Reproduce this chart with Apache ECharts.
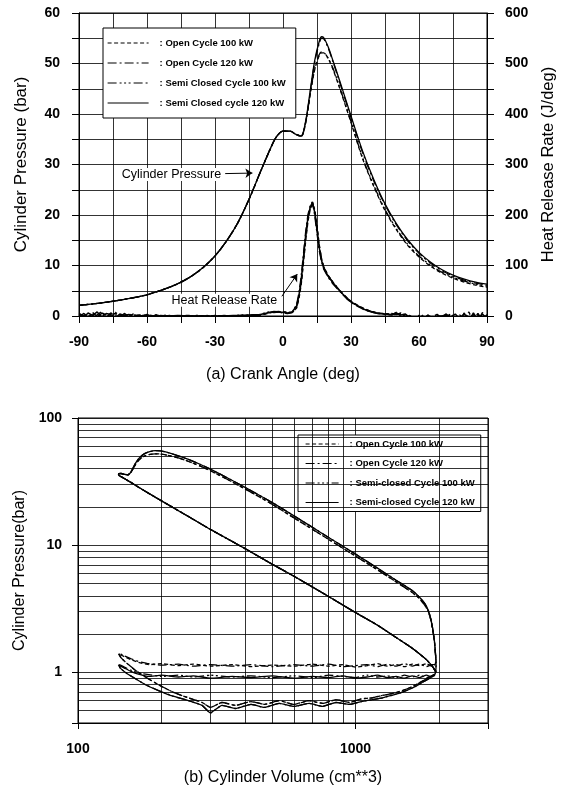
<!DOCTYPE html>
<html><head><meta charset="utf-8">
<script src="https://cdn.jsdelivr.net/npm/echarts@6/dist/echarts.min.js"></script>
<style>html,body{margin:0;padding:0;background:#fff}#c{width:565px;height:791px}</style>
</head><body><div id="c"></div>
<script>
// ---------- (a) Cylinder pressure & heat release vs crank angle ----------
const namesA = ['Open Cycle 100 kW', 'Open Cycle 120 kW', 'Semi Closed Cycle 100 kW', 'Semi Closed cycle 120 kW'];
const namesB = ['Open Cycle 100 kW', 'Open Cycle 120 kW', 'Semi-closed Cycle 100 kW', 'Semi-closed Cycle 120 kW'];

const crankAngle = [-90,-80,-70,-60,-50,-45,-40,-35,-30,-25,-20,-15,-10,-6,-3,0,3,6,8,10,12,14,16,17,18,20,22,25,30,35,40,45,50,55,60,65,70,75,80,85,90];
const pOpen100 = [2.1,2.6,3.3,4.2,5.7,6.7,8.0,9.7,11.9,14.8,18.4,23.1,28.5,32.7,35.4,36.6,36.6,35.9,35.6,
  38.2,43.8,48.8,51.6,52.1,52.1,50.9,48.9,45.1,38.3,31.3,25.7,20.9,17.1,14.0,11.7,9.9,8.5,7.5,6.7,6.1,5.7];
const pOpen120 = [2.1,2.6,3.3,4.2,5.7,6.7,8.0,9.7,11.9,14.8,18.4,23.1,28.5,32.7,35.4,36.6,36.6,35.9,35.6,
  38.4,44.3,50.3,54.0,55.0,54.9,53.0,50.4,46.3,39.3,32.5,26.8,22.0,18.1,14.9,12.4,10.5,9.0,7.9,7.1,6.5,6.1];
const pSemi100 = [2.1,2.6,3.3,4.2,5.7,6.7,8.0,9.7,11.9,14.8,18.4,23.1,28.5,32.7,35.4,36.6,36.6,35.9,35.6,
  38.3,44.0,49.0,51.8,52.3,52.2,51.0,49.1,45.3,38.5,31.5,25.9,21.1,17.3,14.2,11.9,10.1,8.7,7.7,6.9,6.3,5.9];
const pSemi120 = [2.1,2.6,3.3,4.2,5.7,6.7,8.0,9.7,11.9,14.8,18.4,23.1,28.5,32.7,35.4,36.6,36.6,35.9,35.6,
  38.6,44.6,50.6,54.4,55.3,55.1,53.2,50.6,46.6,39.6,32.8,27.1,22.2,18.3,15.1,12.6,10.7,9.2,8.1,7.3,6.7,6.3];

const hrrAngle = [-90,-88,-86,-84,-82,-80,-78,-76,-74,-72,-70,-68,-66,-64,-62,-60,-58,-56,-54,-52,-50,
  -46,-42,-38,-34,-30,-26,-22,-18,-14,-10,
  -8,-6,-4,-2,0,2,4,6,7,8,9,10,11,12,13,14,15,16,17,18,20,22,24,26,28,30,33,36,39,42,45,
  48,50,52,54,56,58,60,62,64,66,68,70,72,74,76,78,80,82,84,86,88,90];
const hrrOpen100 = [-2,4,-5,7,-1,3,-6,2,5,-3,2,-1,4,-2,1,-2,2,-1,1,0,1,
  0,1,0,-1,1,0,0,1,2,2,
  4,6,8,9,8,7,7,16,34,62,105,150,188,212,222,210,178,140,112,96,80,67,56,46,37,29,21,14,9,6,4,
  5,2,6,-2,1,-6,-4,2,-8,-1,3,-3,-1,4,-9,2,-5,8,-12,3,-7,2];
const hrrOpen120 = [5,0,3,-4,2,9,-3,6,0,-2,5,-1,3,0,-2,2,1,-2,1,0,0,
  0,0,1,0,-1,1,0,1,1,2,
  4,7,9,8,6,5,7,22,44,76,120,165,200,218,226,200,165,130,108,93,76,64,54,44,35,27,19,12,8,5,3,
  2,7,0,3,-5,-4,1,-9,3,-6,0,-2,4,-5,1,-8,2,-6,3,-11,7,-9];
const hrrSemi100 = [-4,5,-1,3,-5,6,2,-3,7,1,-2,4,0,1,3,-1,0,2,-1,1,0,
  1,-1,0,1,0,0,0,2,1,3,
  6,8,7,8,8,7,6,18,38,66,110,156,192,214,224,208,174,138,113,97,79,67,56,45,36,28,20,13,9,6,4,
  4,3,5,1,-2,-7,-3,-4,2,-7,1,-1,-4,3,-2,-9,6,-4,-7,5,-10,3];
const hrrSemi120 = [2,-3,6,1,8,-2,5,3,-4,4,1,3,-2,2,0,3,-1,2,0,1,-1,
  1,0,-1,0,0,0,1,1,2,3,
  5,7,8,8,7,6,8,20,40,70,115,160,195,215,225,205,170,135,110,95,78,66,55,45,36,28,20,13,8,5,4,
  3,6,2,4,-3,-8,-2,-6,1,-4,-2,0,2,-3,4,-6,5,-10,6,-8,4,-6];

const xTicksA = [-90,-60,-30,0,30,60,90];
const yTicksLeft = [0,10,20,30,40,50,60];
const yTicksRight = [0,100,200,300,400,500,600];

// ---------- (b) P-V diagram, segments of the cycle [volume cm^3, pressure bar] ----------
const pvCompression = [[1950,1.0],[1900,1.1],[1800,1.26],[1600,1.55],[1400,1.88],[1200,2.35],[1000,2.95],[800,3.95],[600,5.7],[500,7.1],[400,9.4],[300,13.3],[250,16.8],[200,22.3],[170,27.5],[155,31.2],[145,34.0],[140,35.6]];
const pvCombustion120 = [[140,36.4],[143,36.6],[147,36.1],[151,35.7],[154,36.8],[157,39.5],[161,44.0],[166,48.3],[172,51.8],[180,54.2],[190,55.3],[198,55.1],[210,53.6]];
const pvCombustion100 = [[140,36.4],[143,36.6],[147,36.1],[151,35.7],[154,36.6],[157,39.0],[161,43.0],[166,46.8],[172,49.8],[180,51.6],[190,52.2],[198,52.1],[210,51.0]];
const pvExpansion120 = [[230,50.4],[250,47.2],[275,43.3],[300,39.6],[350,33.3],[400,28.5],[450,24.7],[500,21.7],[600,17.0],[700,13.8],[800,11.5],[1000,8.5],[1200,6.6],[1400,5.3],[1600,4.4],[1700,3.9],[1780,3.45]];
const pvExpansion100 = [[230,48.5],[250,45.6],[275,42.0],[300,38.5],[350,32.4],[400,27.7],[450,24.0],[500,21.0],[600,16.4],[700,13.3],[800,11.1],[1000,8.2],[1200,6.4],[1400,5.15],[1600,4.25],[1700,3.8],[1780,3.35]];
const pvBlowdownOpen = [[1830,3.0],[1870,2.55],[1900,2.1],[1925,1.72],[1940,1.42],[1948,1.25],[1935,1.16]];
const pvBlowdownSemi = [[1830,3.05],[1870,2.6],[1900,2.15],[1925,1.75],[1940,1.4],[1950,1.18],[1945,1.02],[1925,0.95]];
const pvExhaustOpen100 = [[1880,1.12],[1800,1.17],[1700,1.13],[1600,1.16],[1500,1.11],[1400,1.15],[1300,1.12],[1200,1.17],[1100,1.13],[1000,1.10],[900,1.15],[800,1.12],[700,1.16],[600,1.12],[500,1.14],[420,1.11],[360,1.15],[300,1.12],[260,1.16],[230,1.13],[200,1.17],[180,1.15],[165,1.20],[155,1.26],[147,1.33],[140,1.40]];
const pvExhaustOpen120 = [[1880,1.15],[1800,1.11],[1700,1.16],[1600,1.12],[1500,1.17],[1400,1.12],[1300,1.16],[1200,1.11],[1100,1.15],[1000,1.13],[900,1.11],[800,1.16],[700,1.12],[600,1.15],[500,1.11],[420,1.15],[360,1.12],[300,1.15],[260,1.12],[230,1.16],[200,1.14],[180,1.17],[165,1.22],[155,1.28],[147,1.35],[140,1.42]];
const pvExhaustSemi100 = [[1880,0.94],[1800,0.91],[1700,0.95],[1600,0.92],[1500,0.95],[1400,0.91],[1300,0.94],[1200,0.92],[1100,0.95],[1000,0.91],[900,0.93],[800,0.95],[700,0.91],[600,0.94],[500,0.91],[420,0.94],[360,0.92],[300,0.95],[260,0.92],[230,0.95],[200,0.93],[180,0.96],[165,0.99],[155,1.04],[147,1.10],[140,1.16]];
const pvExhaustSemi120 = [[1880,0.92],[1800,0.95],[1700,0.91],[1600,0.94],[1500,0.90],[1400,0.93],[1300,0.91],[1200,0.95],[1100,0.92],[1000,0.90],[900,0.94],[800,0.91],[700,0.93],[600,0.90],[500,0.94],[420,0.91],[360,0.93],[300,0.90],[260,0.94],[230,0.92],[200,0.95],[180,0.93],[165,0.97],[155,1.02],[147,1.08],[140,1.14]];
const pvIntakeOpen = [[143,1.30],[150,1.18],[160,1.05],[175,0.92],[195,0.80],[220,0.70],[250,0.63],[280,0.58],[300,0.53],[330,0.58],[370,0.55],[420,0.59],[470,0.56],[530,0.60],[600,0.56],[680,0.60],[760,0.57],[850,0.61],[950,0.58],[1050,0.62],[1150,0.63],[1250,0.66],[1350,0.68],[1450,0.71],[1550,0.75],[1650,0.80],[1750,0.86],[1850,0.92],[1930,0.97]];
const pvIntakeSemi = [[142,1.08],[150,0.98],[160,0.90],[175,0.80],[195,0.72],[220,0.65],[250,0.60],[280,0.55],[300,0.48],[330,0.55],[370,0.52],[420,0.56],[470,0.53],[530,0.57],[600,0.54],[680,0.57],[760,0.54],[850,0.58],[950,0.56],[1050,0.59],[1150,0.61],[1250,0.63],[1350,0.66],[1450,0.69],[1550,0.73],[1650,0.78],[1750,0.84],[1850,0.90],[1930,0.95]];

const xMinorB = [200,300,400,500,600,700,800,900,2000];
const yMinorB = [0.5,0.6,0.7,0.8,0.9,2,3,4,5,6,7,8,9,20,30,40,50,60,70,80,90];
const xTicksB = [100,1000];
const yTicksB = [1,10,100];

// ---------- styles ----------
const dashes = [[4,2.5],[9,3,2,3],[9,3,2,2.5,2,2.5,2,3],'solid'];
const FONT = 'Arial, "Liberation Sans", sans-serif';

const pvData = [
  [].concat(pvCompression, pvCombustion100, pvExpansion100, pvBlowdownOpen, pvExhaustOpen100, pvIntakeOpen),
  [].concat(pvCompression, pvCombustion120, pvExpansion120, pvBlowdownOpen, pvExhaustOpen120, pvIntakeOpen),
  [].concat(pvCompression, pvCombustion100, pvExpansion100, pvBlowdownSemi, pvExhaustSemi100, pvIntakeSemi),
  [].concat(pvCompression, pvCombustion120, pvExpansion120, pvBlowdownSemi, pvExhaustSemi120, pvIntakeSemi)
];
const pData = [pOpen100, pOpen120, pSemi100, pSemi120];
const hData = [hrrOpen100, hrrOpen120, hrrSemi100, hrrSemi120];

function line(name, data, dash, xi, yi, smooth, width) {
  return {
    type: 'line', name, data, xAxisIndex: xi, yAxisIndex: yi,
    symbol: 'none', showSymbol: false, smooth: smooth, animation: false,
    lineStyle: { color: '#000', width: width || 1.3, type: dash }, itemStyle: { color: '#000' }
  };
}

const series = [];
for (let i = 0; i < 4; i++) {
  series.push(line(namesA[i], crankAngle.map((a, k) => [a, pData[i][k]]), dashes[i], 0, 0, 0.3, 1.3));
}
for (let i = 0; i < 4; i++) {
  series.push(line(namesA[i], hrrAngle.map((a, k) => [a, hData[i][k]]), dashes[i], 0, 1, false, 1.5));
}
for (let i = 0; i < 4; i++) {
  series.push(line(namesB[i], pvData[i], dashes[i], 1, 2, 0.15, 1.3));
}

// annotations (a): text + arrows in data coordinates
series[0].markLine = {
  silent: true, animation: false, symbol: ['none', 'arrow'], symbolSize: 7,
  label: { show: false },
  lineStyle: { color: '#000', width: 1, type: 'solid' },
  data: [
    [{ coord: [-25.5, 28.2] }, { coord: [-13.5, 28.3] }],
    [{ coord: [-0.5, 3.9] }, { coord: [6.3, 8.3] }]
  ]
};
series[0].markPoint = {
  silent: true, animation: false, symbol: 'circle', symbolSize: 1,
  itemStyle: { color: 'rgba(0,0,0,0)' },
  label: { show: true, position: 'inside', formatter: '{b}', color: '#000', fontSize: 12.5,
    fontFamily: FONT, backgroundColor: '#fff', padding: [0, 1] },
  data: [
    { name: 'Cylinder Pressure', coord: [-49.2, 28] },
    { name: 'Heat Release Rate', coord: [-25.9, 3.1] }
  ]
};
// minor log grid lines (b)
series[8].markLine = {
  silent: true, animation: false, symbol: 'none', label: { show: false },
  lineStyle: { color: '#000', width: 0.8, type: 'solid' },
  data: xMinorB.map(v => ({ xAxis: v })).concat(yMinorB.map(v => ({ yAxis: v })))
};

const axisCommon = {
  axisLine: { show: true, onZero: false, lineStyle: { color: '#000', width: 1 } },
  axisTick: { show: true, inside: false, length: 7, lineStyle: { color: '#000', width: 1 } },
  splitLine: { show: true, lineStyle: { color: '#000', width: 0.8 } },
  nameLocation: 'middle',
  nameTextStyle: { color: '#000', fontFamily: FONT, fontSize: 16 }
};
const labelStyle = { color: '#000', fontFamily: FONT, fontSize: 14, fontWeight: 'bold' };
function isLogTick(v, list) {
  return list.some(t => Math.abs(Math.log10(v) - Math.log10(t)) < 1e-6);
}
const legendCommon = {
  orient: 'vertical', selectedMode: false,
  borderColor: '#000', borderWidth: 1, backgroundColor: '#fff',
  itemStyle: { opacity: 0 },
  lineStyle: { width: 1.2 },
  textStyle: { fontSize: 9.5, fontWeight: 'bold', fontFamily: FONT, color: '#000', padding: [0, 0, 0, 6] },
  formatter: n => ': ' + n
};

const option = {
  backgroundColor: '#fff',
  animation: false,
  grid: [
    { left: 79, top: 13, width: 410, height: 303, show: true, borderColor: '#000', borderWidth: 1, backgroundColor: 'transparent' },
    { left: 78, top: 418, width: 410, height: 305, show: true, borderColor: '#000', borderWidth: 1, backgroundColor: 'transparent' }
  ],
  legend: [
    Object.assign({}, legendCommon, {
      left: 103, top: 28, data: namesA,
      itemWidth: 41, itemHeight: 10, itemGap: 10, padding: [10, 10, 10, 4]
    }),
    Object.assign({}, legendCommon, {
      left: 298, top: 435, data: namesB,
      itemWidth: 33, itemHeight: 10, itemGap: 9.5, padding: [4, 6, 4, 7]
    })
  ],
  xAxis: [
    Object.assign({}, axisCommon, {
      gridIndex: 0, type: 'value', min: -90, max: 90, interval: 15,
      name: '(a) Crank Angle (deg)', nameGap: 51,
      axisLabel: Object.assign({}, labelStyle, { margin: 19, formatter: v => xTicksA.includes(v) ? String(v) : '' })
    }),
    Object.assign({}, axisCommon, {
      gridIndex: 1, type: 'log', logBase: 10, min: 100, max: 3000,
      name: '(b) Cylinder Volume (cm**3)', nameGap: 47,
      axisTick: { show: true, inside: false, length: 6, lineStyle: { color: '#000' } },
      axisLabel: Object.assign({}, labelStyle, { margin: 19, formatter: v => isLogTick(v, xTicksB) ? String(Math.round(v)) : '' })
    })
  ],
  yAxis: [
    Object.assign({}, axisCommon, {
      gridIndex: 0, type: 'value', min: 0, max: 60, interval: 5, position: 'left',
      name: 'Cylinder Pressure (bar)', nameGap: 49,
      nameTextStyle: { color: '#000', fontFamily: FONT, fontSize: 17 },
      axisLabel: Object.assign({}, labelStyle, { margin: 19, formatter: v => yTicksLeft.includes(v) ? String(v) : '' })
    }),
    Object.assign({}, axisCommon, {
      gridIndex: 0, type: 'value', min: 0, max: 600, interval: 50, position: 'right',
      name: 'Heat Release Rate (J/deg)', nameGap: 53,
      nameTextStyle: { color: '#000', fontFamily: FONT, fontSize: 16.5 },
      splitLine: { show: false },
      axisLabel: Object.assign({}, labelStyle, { margin: 18, formatter: v => yTicksRight.includes(v) ? String(v) : '' })
    }),
    Object.assign({}, axisCommon, {
      gridIndex: 1, type: 'log', logBase: 10, min: 0.4, max: 100, position: 'left',
      name: 'Cylinder Pressure(bar)', nameGap: 48,
      axisTick: { show: true, inside: false, length: 6, lineStyle: { color: '#000' } },
      axisLabel: Object.assign({}, labelStyle, { margin: 16, formatter: v => isLogTick(v, yTicksB) ? String(Math.round(v)) : '' })
    })
  ],
  series
};

const chart = echarts.init(document.getElementById('c'), null, { renderer: 'canvas' });
chart.setOption(option);
</script>
</body></html>
